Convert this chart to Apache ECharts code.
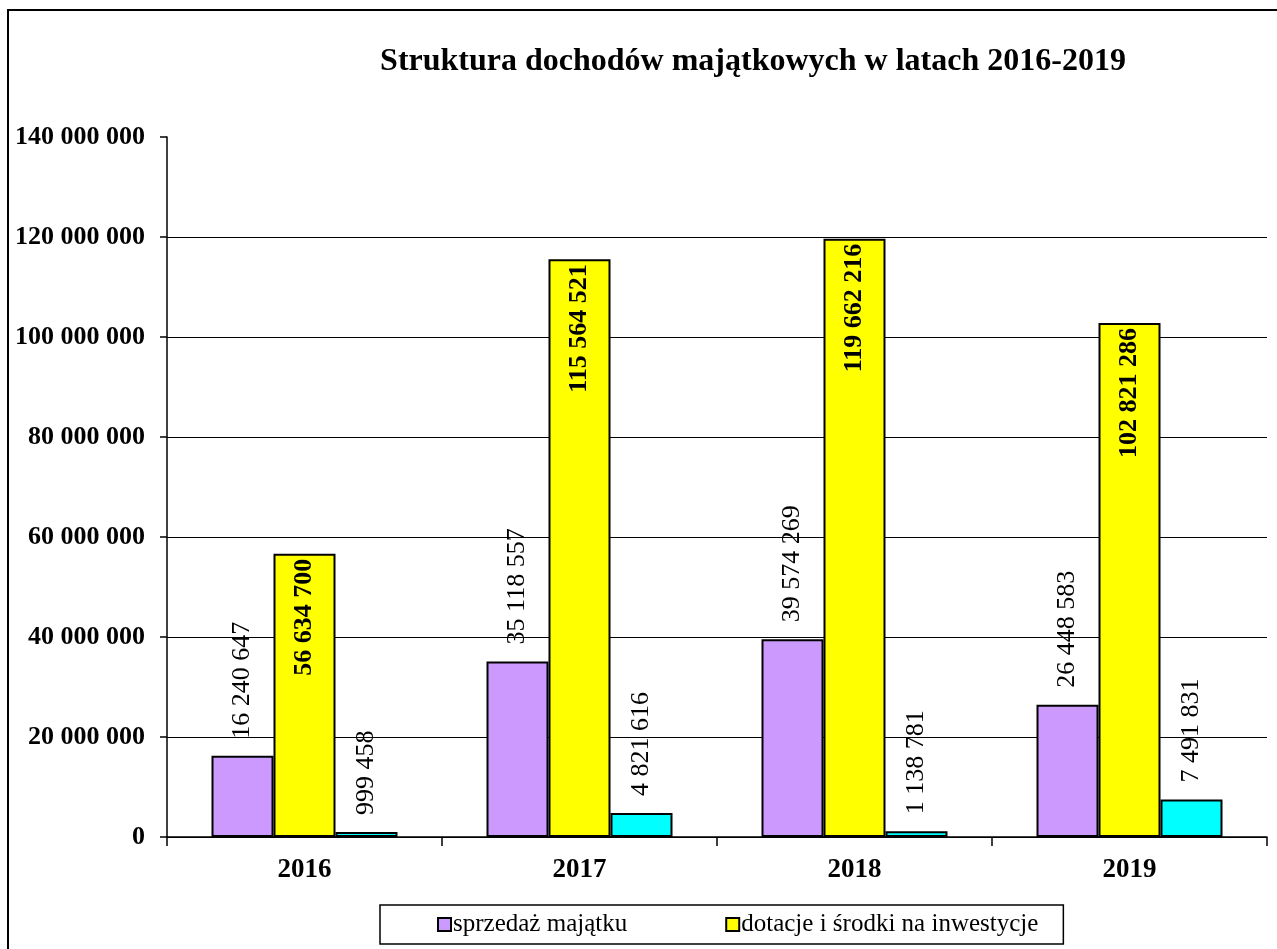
<!DOCTYPE html>
<html>
<head>
<meta charset="utf-8">
<script src="https://cdn.jsdelivr.net/npm/echarts@6/dist/echarts.min.js"></script>
<style>
  html, body { margin: 0; padding: 0; background: #fff; }
  #chart { width: 1277px; height: 949px; }
</style>
</head>
<body>
<div id="chart"></div>
<script>
const years = ['2016', '2017', '2018', '2019'];
const sprzedaz = [16240647, 35118557, 39574269, 26448583];
const dotacje = [56634700, 115564521, 119662216, 102821286];
const pozostale = [999458, 4821616, 1138781, 7491831];
const legendNames = ['sprzedaż majątku', 'dotacje i środki na inwestycje'];

const serif = '"Liberation Serif", "Times New Roman", serif';

function fmt(v) {
  return String(v).replace(/\B(?=(\d{3})+(?!\d))/g, ' ');
}

function labelAbove() {
  return {
    show: true,
    position: 'top',
    distance: 17,
    rotate: 90,
    align: 'left',
    verticalAlign: 'middle',
    fontFamily: serif,
    fontSize: 26,
    color: '#000',
    formatter: p => fmt(p.value)
  };
}

const chart = echarts.init(document.getElementById('chart'));
chart.setOption({
  animation: false,
  backgroundColor: '#fff',
  title: {
    text: 'Struktura dochodów majątkowych w latach 2016-2019',
    left: 748,
    textAlign: 'center',
    top: 41,
    textStyle: { fontFamily: serif, fontSize: 32, fontWeight: 'bold', color: '#000' }
  },
  graphic: [{
    type: 'rect',
    shape: { x: 8, y: 10, width: 1290, height: 960 },
    style: { fill: 'none', stroke: '#000', lineWidth: 2 },
    silent: true
  }],
  legend: {
    data: legendNames,
    left: 380,
    top: 905,
    padding: [7, 25, 7, 57],
    itemGap: 98,
    itemWidth: 13,
    itemHeight: 13,
    borderColor: '#000',
    borderWidth: 1.5,
    borderRadius: 0,
    icon: 'rect',
    textStyle: { fontFamily: serif, fontSize: 25, color: '#000', padding: [0, 0, 0, -3] }
  },
  grid: { left: 167, right: 10, top: 137, bottom: 112, containLabel: false },
  xAxis: {
    type: 'category',
    data: years,
    axisLine: { lineStyle: { color: '#000', width: 1.5 } },
    axisTick: { show: true, length: 9, lineStyle: { color: '#000', width: 1.5 } },
    axisLabel: { margin: 20, fontFamily: serif, fontSize: 27, fontWeight: 'bold', color: '#000' }
  },
  yAxis: {
    type: 'value',
    min: 0,
    max: 140000000,
    interval: 20000000,
    axisLine: { show: true, lineStyle: { color: '#000', width: 1.5 } },
    axisTick: { show: true, length: 7, lineStyle: { color: '#000', width: 1.5 } },
    axisLabel: {
      margin: 22,
      fontFamily: serif,
      fontSize: 26,
      fontWeight: 'bold',
      color: '#000',
      formatter: v => fmt(v)
    },
    splitLine: {
      show: true,
      lineStyle: {
        color: ['#000', '#000', '#000', '#000', '#000', '#000', '#000', 'rgba(0,0,0,0)'],
        width: 1.2
      }
    }
  },
  series: [
    {
      name: legendNames[0],
      type: 'bar',
      data: sprzedaz,
      barWidth: 62,
      barGap: '0%',
      itemStyle: { color: '#cc99ff', borderColor: '#000', borderWidth: 2 },
      label: labelAbove()
    },
    {
      name: legendNames[1],
      type: 'bar',
      data: dotacje,
      barWidth: 62,
      barGap: '0%',
      itemStyle: { color: '#ffff00', borderColor: '#000', borderWidth: 2 },
      label: {
        show: true,
        position: 'insideTop',
        distance: 5,
        rotate: 90,
        align: 'right',
        verticalAlign: 'middle',
        fontFamily: serif,
        fontSize: 26,
        fontWeight: 'bold',
        color: '#000',
        formatter: p => fmt(p.value)
      }
    },
    {
      name: 'pozostałe',
      type: 'bar',
      data: pozostale,
      barWidth: 62,
      barGap: '0%',
      itemStyle: { color: '#00ffff', borderColor: '#000', borderWidth: 2 },
      label: labelAbove()
    }
  ]
});
</script>
</body>
</html>
